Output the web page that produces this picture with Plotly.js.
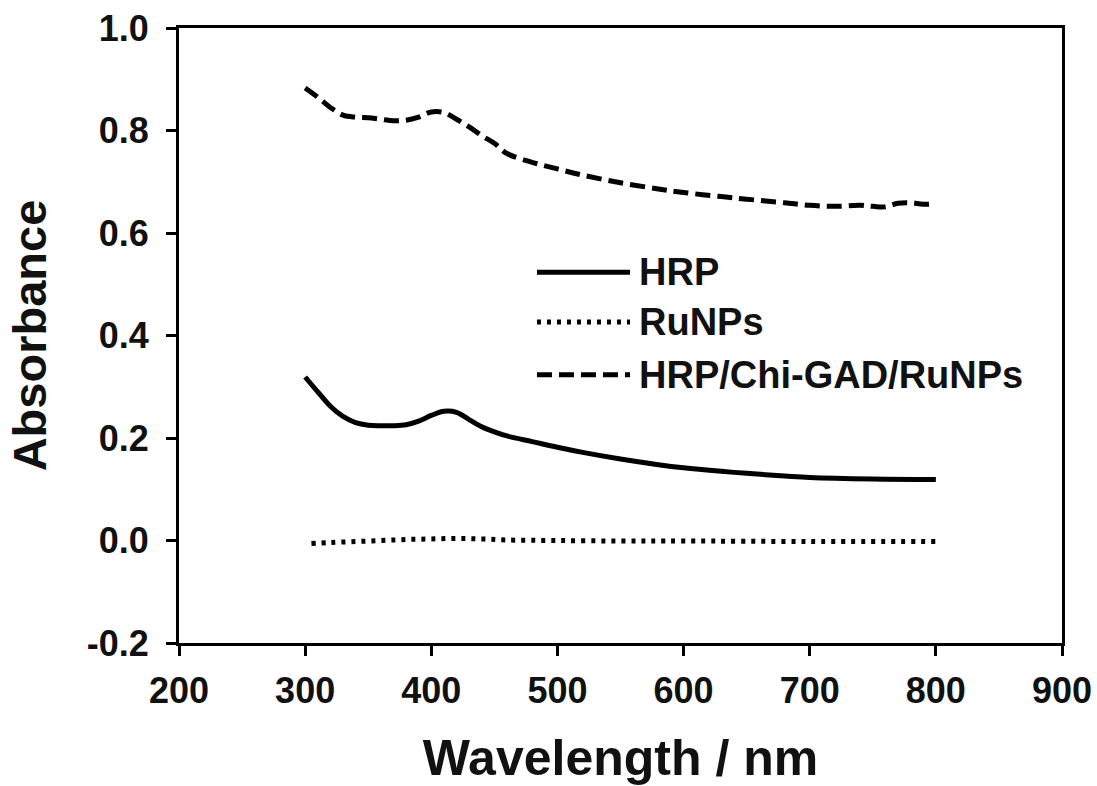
<!DOCTYPE html>
<html>
<head>
<meta charset="utf-8">
<script src="https://cdn.plot.ly/plotly-3.0.1.min.js"></script>
<style>html,body{margin:0;padding:0;background:#fff;}#chart{width:1097px;height:786px;}</style>
</head>
<body>
<div id="chart"></div>
<script>
// Data
const wlComposite = [300,310,320,330,340,350,360,370,380,390,400,410,420,430,440,450,460,480,500,520,550,580,600,630,650,680,700,720,740,750,760,770,780,790,800];
const absComposite = [0.883,0.865,0.845,0.830,0.826,0.825,0.822,0.819,0.820,0.826,0.836,0.835,0.822,0.807,0.790,0.775,0.755,0.738,0.725,0.713,0.698,0.686,0.679,0.671,0.666,0.659,0.654,0.652,0.654,0.652,0.651,0.658,0.659,0.656,0.657];

const wlHRP = [300,310,320,330,340,350,360,370,380,390,400,410,420,430,440,450,460,480,500,520,550,580,600,630,650,680,700,750,800];
const absHRP = [0.319,0.290,0.262,0.242,0.230,0.225,0.224,0.224,0.226,0.233,0.244,0.252,0.250,0.236,0.222,0.212,0.204,0.193,0.182,0.172,0.159,0.148,0.142,0.135,0.131,0.126,0.123,0.120,0.119];

const wlRu = [305,320,340,360,380,400,420,440,460,500,550,600,700,800];
const absRu = [-0.006,-0.004,-0.002,0.000,0.002,0.003,0.004,0.003,0.001,0.000,-0.001,-0.001,-0.002,-0.002];

const seriesNames = ['HRP','RuNPs','HRP/Chi-GAD/RuNPs'];
const xTicks = [200,300,400,500,600,700,800,900];
const yTicks = [-0.2,0.0,0.2,0.4,0.6,0.8,1.0];
const yTickText = ['-0.2','0.0','0.2','0.4','0.6','0.8','1.0'];

const fontFam = 'Liberation Sans, Arial, sans-serif';

const traces = [
  {x: wlHRP, y: absHRP, name: seriesNames[0], mode: 'lines',
   line: {color: '#000', width: 5, shape: 'spline', dash: 'solid'}},
  {x: wlRu, y: absRu, name: seriesNames[1], mode: 'lines',
   line: {color: '#000', width: 5, shape: 'spline', dash: '4px,6px'}},
  {x: wlComposite, y: absComposite, name: seriesNames[2], mode: 'lines',
   line: {color: '#000', width: 5, shape: 'spline', dash: '15px,7px'}}
];

// custom legend (long line samples as in the reference)
const legX0 = 0.4054, legX1 = 0.5108, legTextX = 0.519;
const legY = [0.603, 0.522, 0.436];
const legDash = ['solid', '4px,6px', '15px,7px'];
const shapes = [];
const annotations = [];
for (let i = 0; i < seriesNames.length; i++) {
  shapes.push({type: 'line', xref: 'paper', yref: 'paper', x0: legX0, x1: legX1, y0: legY[i], y1: legY[i],
    line: {color: '#000', width: 5, dash: legDash[i]}});
  annotations.push({xref: 'paper', yref: 'paper', x: legTextX, y: legY[i], xanchor: 'left', yanchor: 'middle',
    text: seriesNames[i], showarrow: false, font: {family: fontFam, size: 38, color: '#111', weight: 'bold'}});
}

const layout = {
  width: 1097, height: 786,
  margin: {l: 179, r: 35, t: 28, b: 143},
  paper_bgcolor: '#fff', plot_bgcolor: '#fff',
  showlegend: false,
  xaxis: {
    range: [200, 900], tickvals: xTicks, ticks: 'outside', ticklen: 10, tickwidth: 3, tickcolor: '#000',
    showline: true, linewidth: 3, linecolor: '#000', mirror: true, showgrid: false, zeroline: false,
    ticklabelstandoff: 4,
    tickfont: {family: fontFam, size: 36, color: '#111', weight: 'bold'},
    title: {text: 'Wavelength / nm', standoff: 55, font: {family: fontFam, size: 50, color: '#111', weight: 'bold'}}
  },
  yaxis: {
    range: [-0.2, 1.0], tickvals: yTicks, ticktext: yTickText, ticks: 'outside', ticklen: 10, tickwidth: 3, tickcolor: '#000',
    showline: true, linewidth: 3, linecolor: '#000', mirror: true, showgrid: false, zeroline: false,
    ticklabelstandoff: 10,
    tickfont: {family: fontFam, size: 36, color: '#111', weight: 'bold'},
    title: {text: 'Absorbance', standoff: 26, font: {family: fontFam, size: 47, color: '#111', weight: 'bold'}}
  },
  shapes: shapes,
  annotations: annotations
};

Plotly.newPlot('chart', traces, layout, {displayModeBar: false, staticPlot: true});
</script>
</body>
</html>
